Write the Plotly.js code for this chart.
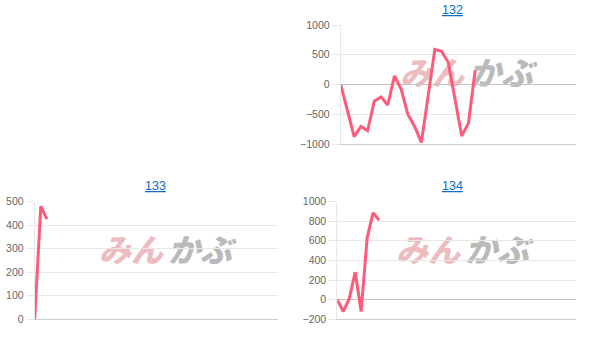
<!DOCTYPE html>
<html>
<head>
<meta charset="utf-8">
<script src="https://cdn.plot.ly/plotly-3.0.1.min.js"></script>
<style>html,body{margin:0;padding:0;background:#fff;}#chart{width:603px;height:344px;}</style>
</head>
<body>
<div id="chart"></div>
<script>
// ---- data ----
const titles = ["132", "133", "134"];
const values132 = [0, -440, -875, -705, -775, -280, -210, -345, 145, -80, -505, -705, -975, -195, 590, 560, 375, -245, -865, -650, 235];
const values133 = [0, 480, 425];
const values134 = [0, -120, 10, 280, -120, 630, 885, 810];
const categoryCount132 = 36;
const categoryCount133 = 41;
const categoryCount134 = 41;
const yRange132 = [-1000, 1000];
const yRange133 = [0, 500];
const yRange134 = [-200, 1000];
const yStep132 = 500;
const yStep133 = 100;
const yStep134 = 200;
const watermarkA = "みん";
const watermarkB = "かぶ";

// ---- layout helpers ----
const W = 603, H = 344;
const px = v => v / W;
const py = v => 1 - v / H;

const lineColor = "#ff5a7a";
const tickFont = {family: "Liberation Sans, Arial, sans-serif", size: 10.5, color: "#666666"};

function trace(vals, n) {
  return {
    x: vals.map((_, i) => i), y: vals,
    type: "scatter", mode: "lines",
    line: {color: lineColor, width: 3},
    hoverinfo: "skip", showlegend: false
  };
}
function xax(x0, x1, n) {
  return {domain: [px(x0), px(x1)], range: [0, n - 1], showgrid: false, zeroline: false,
    showticklabels: false, ticks: "", showline: true, linecolor: "#cfcfcf", linewidth: 1, fixedrange: true};
}
function yax(y0, y1, r, step) {
  return {domain: [py(y1), py(y0)], range: r, dtick: step, tick0: 0,
    gridcolor: "#e8e8e8", gridwidth: 1, zeroline: true, zerolinecolor: "#c4c4c4", zerolinewidth: 1,
    showline: true, linecolor: "#e8e8e8", linewidth: 1,
    ticks: "outside", ticklen: 8, tickcolor: "#e8e8e8", tickfont: tickFont, fixedrange: true};
}

const t1 = trace(values132, categoryCount132);
const t2 = trace(values133, categoryCount133); t2.xaxis = "x2"; t2.yaxis = "y2";
const t3 = trace(values134, categoryCount134); t3.xaxis = "x3"; t3.yaxis = "y3";

function title(text, cx, cy) {
  return {text: "<u>" + text + "</u>", xref: "paper", yref: "paper", x: px(cx), y: py(cy),
    xanchor: "center", yanchor: "middle", showarrow: false,
    font: {family: "Liberation Sans, Arial, sans-serif", size: 12.5, color: "#0b6bcb"}};
}
function mark(text, color, cx, cy) {
  return {type: "rect", xref: "paper", yref: "paper",
    x0: px(cx - 40), x1: px(cx + 40), y0: py(cy + 15), y1: py(cy - 15),
    line: {width: 0}, fillcolor: "rgba(0,0,0,0)", layer: "below",
    label: {text: text, textposition: "middle center",
      font: {family: "Noto Sans CJK JP", size: 32, color: color, weight: 900, style: "italic"}}};
}
const pink = "rgba(222,130,136,0.55)", gray = "rgba(140,140,140,0.6)";
const shapes = [
  mark(watermarkA, pink, 432, 76), mark(watermarkB, gray, 501, 76),
  mark(watermarkA, pink, 131, 252.5), mark(watermarkB, gray, 200, 252.5),
  mark(watermarkA, pink, 428, 252.5), mark(watermarkB, gray, 497, 252.5)
];

const layout = {
  width: W, height: H,
  margin: {l: 0, r: 0, t: 0, b: 0},
  paper_bgcolor: "#ffffff", plot_bgcolor: "rgba(0,0,0,0)",
  showlegend: false,
  xaxis: xax(340.7, 576, categoryCount132),
  yaxis: yax(25, 144, yRange132, yStep132),
  xaxis2: xax(34.7, 278.3, categoryCount133),
  yaxis2: yax(201.5, 319.3, yRange133, yStep133),
  xaxis3: xax(337.3, 576, categoryCount134),
  yaxis3: yax(201.5, 319.3, yRange134, yStep134),
  annotations: [title(titles[0], 452, 10.5), title(titles[1], 155, 185.5), title(titles[2], 452, 185.5)],
  shapes: shapes
};
layout.yaxis.anchor = "x"; layout.xaxis.anchor = "y";
layout.yaxis2.anchor = "x2"; layout.xaxis2.anchor = "y2";
layout.yaxis3.anchor = "x3"; layout.xaxis3.anchor = "y3";

Plotly.newPlot("chart", [t1, t2, t3], layout, {staticPlot: true, displayModeBar: false});
</script>
</body>
</html>
